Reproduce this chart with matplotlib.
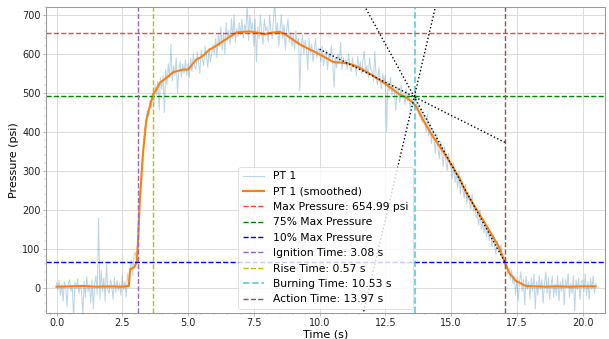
import numpy as np
import matplotlib
matplotlib.use('Agg')
import matplotlib.pyplot as plt
from matplotlib.ticker import AutoMinorLocator

# raw pressure, one value every 0.05 s (20 per row = 1 s)
pt1_raw = [
    12, -5, 18, -20, 8, -35, 15, 2, -48, 10, 20, -10, 5, -80, 14, -3, 22, -15, 6, -8,
    -70, 15, -25, 28, -10, 8, -40, 20, -55, 12, 30, -18, 178, -30, 45, -10, 25, -35, 60, -5,
    -15, 20, 5, -30, 25, -12, 18, -8, 10, -20, 30, -5, 15, -25, 35, 10, 50, 70, 30, 85,
    90, 60, 150, 210, 260, 330, 350, 410, 420, 455, 440, 480, 460, 500, 470, 520, 495, 530, 455, 540,
    510, 545, 450, 560, 520, 575, 540, 625, 530, 570, 545, 590, 500, 560, 580, 540, 575, 550, 585, 545,
    575, 540, 590, 555, 600, 570, 560, 605, 580, 550, 610, 585, 570, 620, 595, 565, 615, 580, 600, 625,
    600, 640, 590, 650, 620, 670, 610, 655, 600, 680, 635, 660, 625, 690, 640, 700, 630, 665, 645, 680,
    650, 690, 640, 675, 660, 730, 635, 700, 660, 680, 620, 690, 580, 670, 640, 700, 655, 625, 690, 660,
    670, 630, 700, 660, 640, 690, 740, 650, 680, 620, 665, 700, 640, 675, 610, 660, 690, 630, 655, 620,
    650, 610, 660, 625, 640, 505, 620, 650, 600, 635, 615, 560, 640, 600, 625, 580, 610, 640, 590, 615,
    605, 580, 620, 570, 595, 610, 560, 600, 585, 620, 575, 515, 590, 565, 600, 580, 630, 560, 590, 575,
    585, 560, 600, 570, 555, 590, 565, 575, 545, 595, 560, 580, 550, 585, 607, 555, 570, 540, 590, 560,
    555, 530, 607, 540, 520, 565, 535, 510, 550, 525, 545, 400, 530, 505, 540, 495, 520, 500, 455, 515,
    505, 475, 520, 490, 500, 470, 510, 480, 495, 460, 485, 470, 480, 500, 455, 470, 440, 460, 425, 445,
    430, 400, 445, 390, 420, 370, 405, 380, 345, 395, 360, 330, 375, 345, 310, 360, 325, 300, 345, 320,
    310, 280, 320, 270, 295, 255, 300, 240, 275, 250, 230, 265, 215, 245, 220, 200, 240, 195, 210, 180,
    190, 160, 200, 150, 170, 140, 165, 130, 155, 120, 145, 105, 135, 110, 85, 120, 100, 90, 110, 75,
    80, 55, 65, 35, 50, 20, 45, 10, 30, -20, 25, -35, 15, 40, -10, 20, -45, 30, -5, 15,
    -30, 25, -10, 35, -55, 15, -20, 30, -5, 20, -40, 10, 40, -15, 25, -30, 5, 30, -25, 10,
    -20, 30, -35, 15, -10, 25, -45, 20, 0, 35, -25, 10, -15, 30, -60, 20, -5, 25, -30, 15,
    20, -10, 35, -20, 15, -30, 25, -5, 30, -15, 10,
]
dt = 0.05

t_smooth = [0, 0.5, 1.0, 1.5, 2.0, 2.5, 2.75, 2.8, 2.95, 3.05, 3.1, 3.17, 3.3, 3.42, 3.55,
            3.67, 3.8, 3.93, 4.18, 4.43, 4.8, 5.0, 5.32, 5.5, 5.83, 6.0, 6.33, 6.6, 6.84,
            7.1, 7.34, 7.6, 7.91, 8.2, 8.48, 8.7, 8.99, 9.24, 9.5, 10.0, 10.3, 10.5, 10.8,
            11.14, 11.52, 12.02, 12.53, 13.04, 13.3, 13.54, 13.7, 13.92, 14.3, 14.81, 15.31,
            15.57, 16.2, 16.83, 17.02, 17.21, 17.46, 17.84, 18.2, 18.6, 19.0, 19.5, 20.0, 20.5]
p_smooth = [2, 3, 4, 2, 3, 2, 4, 47, 52, 65, 120, 227, 355, 432, 466,
            496, 509, 526, 539, 553, 560, 560, 586, 592, 612, 618, 633, 645, 655,
            657, 658, 655, 651, 655, 657, 650, 637, 625, 616, 599, 588, 580, 578,
            575, 565, 545, 522, 496, 488, 476, 462, 432, 389, 338, 282,
            244, 175, 103, 68, 38, 17, 4, 3, 2, 3, 2, 3, 3]

max_pressure = 654.99
ignition_time = 3.08
rise_time = 0.57
burning_time = 10.53
action_time = 13.97

# tangent construction (dotted black)
tan_point = (13.6, 490)
tan_slopes = [-34.0, -123.4, 287.0]
tan_span = [10.0, 17.05]

t_raw = np.arange(len(pt1_raw)) * dt

fig, ax = plt.subplots(figsize=(12.18, 6.78), dpi=50)
fig.subplots_adjust(left=0.0755, right=0.9934, top=0.979, bottom=0.0767)

ax.plot(t_raw, pt1_raw, color='tab:blue', alpha=0.3, lw=1.5, label='PT 1')
ax.plot(t_smooth, p_smooth, color='tab:orange', lw=3, label='PT 1 (smoothed)')

ax.axhline(max_pressure, color='red', alpha=0.75, ls='--', lw=2,
           label='Max Pressure: %.2f psi' % max_pressure)
ax.axhline(0.75 * max_pressure, color='green', ls='--', lw=2, label='75% Max Pressure')
ax.axhline(0.10 * max_pressure, color='blue', ls='--', lw=2, label='10% Max Pressure')
ax.axvline(ignition_time, color='tab:purple', ls='--', lw=2,
           label='Ignition Time: %.2f s' % ignition_time)
ax.axvline(ignition_time + rise_time, color='y', ls='--', lw=2,
           label='Rise Time: %.2f s' % rise_time)
ax.axvline(ignition_time + burning_time, color='tab:cyan', alpha=0.7, ls='--', lw=2.5,
           label='Burning Time: %.2f s' % burning_time)
ax.axvline(ignition_time + action_time, color='tab:brown', ls='--', lw=2,
           label='Action Time: %.2f s' % action_time)

xs = np.array(tan_span)
for k in tan_slopes:
    ax.plot(xs, tan_point[1] + k * (xs - tan_point[0]), color='black', ls=':', lw=2)

ax.set_xlim(-0.4, 20.85)
ax.set_ylim(-0.1 * max_pressure, 1.1 * max_pressure)
ax.set_xlabel('Time (s)', fontsize=16, labelpad=2)
ax.set_ylabel('Pressure (psi)', fontsize=16, labelpad=4)

ax.xaxis.set_minor_locator(AutoMinorLocator())
ax.yaxis.set_minor_locator(AutoMinorLocator())
ax.tick_params(which='major', labelsize=14, colors='#888888', labelcolor='#222222', length=4)
ax.tick_params(which='minor', colors='#aaaaaa', length=2.5)
for s in ax.spines.values():
    s.set_color('#999999')
    s.set_linewidth(1.5)
ax.grid(True, color='#dddddd', lw=1.5)
ax.set_axisbelow(True)

ax.legend(loc='lower center', fontsize=15.5, framealpha=0.8, borderaxespad=0.4)

fig.savefig('out.png', dpi=50)
